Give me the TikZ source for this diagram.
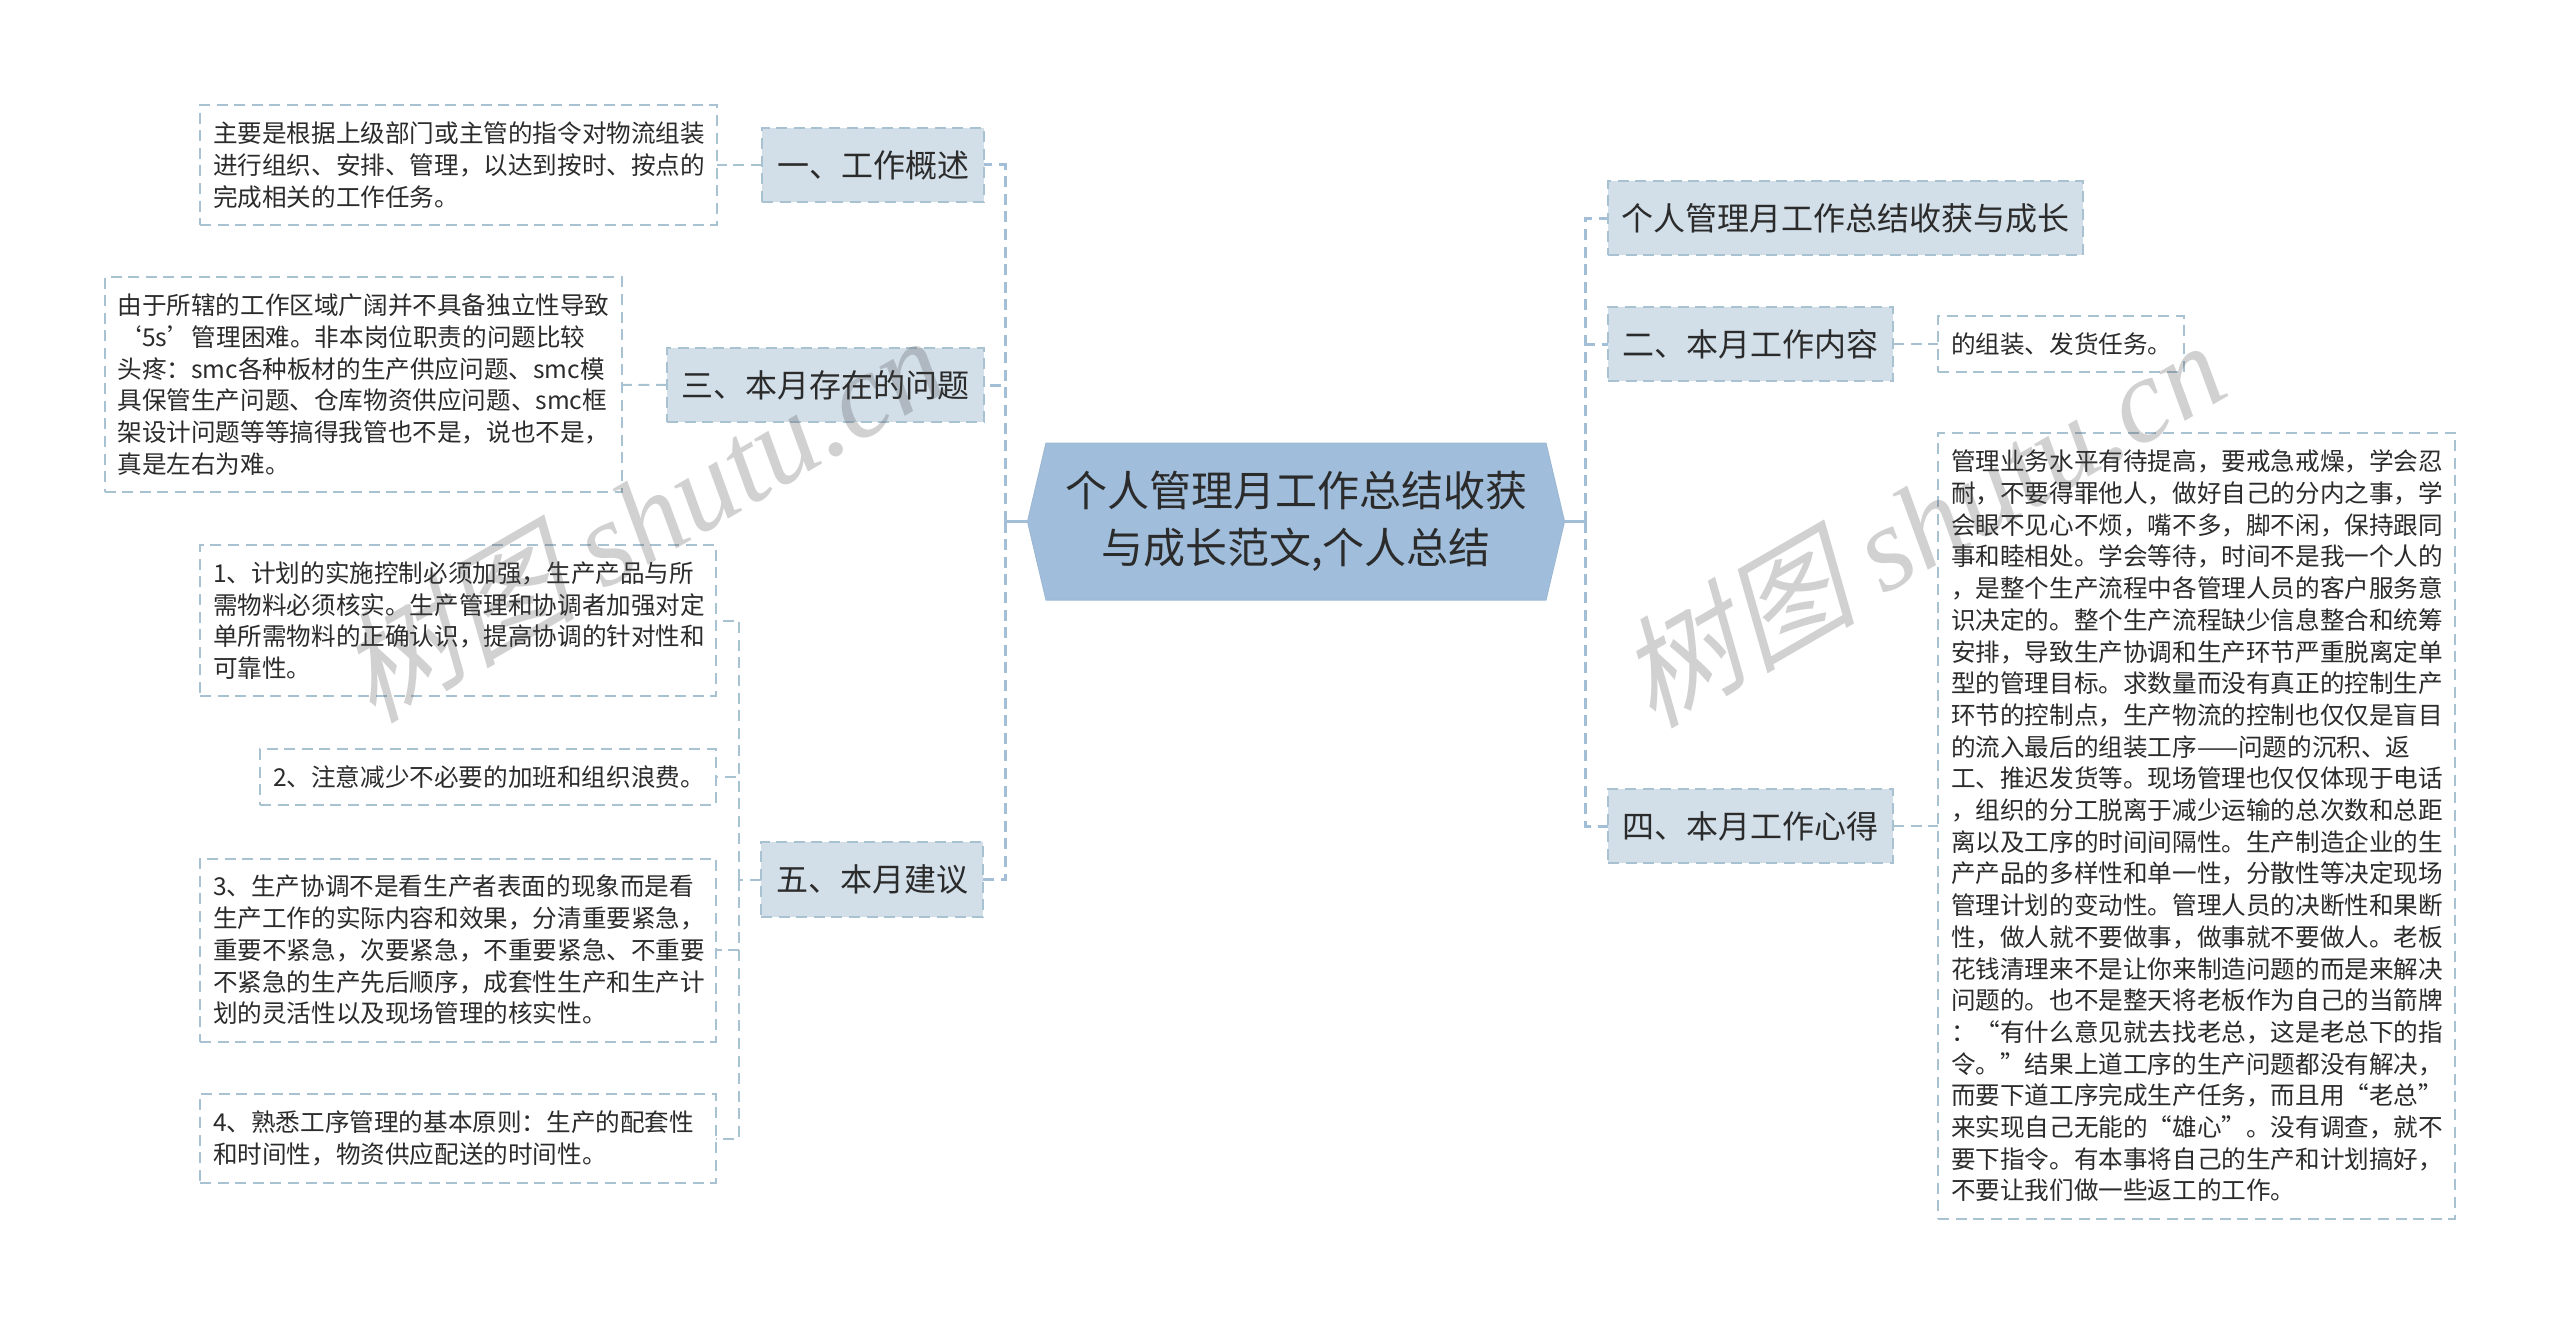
\documentclass[tikz,border=0pt]{standalone}
\usepackage{fontspec}
\setmainfont{Noto Sans CJK SC}
\newfontfamily\markfont[FakeSlant=0.25]{Noto Sans CJK SC}
\newfontfamily\marklatin{Liberation Serif}[ItalicFont=* Italic]
\pgfdeclarelayer{bg}
\pgfsetlayers{bg,main}
\definecolor{rootblue}{HTML}{A0BEDB}
\definecolor{branchfill}{HTML}{D2DFE9}
\definecolor{linkblue}{HTML}{A3BFD8}
\definecolor{leafline}{HTML}{A9C2D2}
\definecolor{inkgrey}{HTML}{2B2B2B}
\tikzset{
        leaf/.style={draw=leafline, line width=1pt, dash pattern=on 5.5pt off 3.3pt, outer sep=0pt, inner xsep=6.5pt, inner ysep=0pt, align=left, text=inkgrey, font=\fontsize{12.3pt}{15.85pt}\selectfont},
        branch/.style={draw=leafline, fill=branchfill, line width=1pt, dash pattern=on 5.5pt off 3.3pt, outer sep=0pt, inner sep=0pt, text=inkgrey, font=\fontsize{16pt}{20pt}\selectfont},
        hub/.style={outer sep=0pt, inner sep=0pt, align=center, text=inkgrey, font=\fontsize{21pt}{28.4pt}\selectfont},
        hubshape/.style={fill=rootblue, draw=rootblue!90!gray, line width=.5pt},
        stem/.style={draw=linkblue, line width=1.5pt, dash pattern=on 5.5pt off 3.3pt},
        twig/.style={draw=leafline, line width=1pt, dash pattern=on 5.5pt off 3.3pt},
        hublink/.style={draw=linkblue, line width=1.5pt},
        watermark/.style={text=black!70, opacity=.26, rotate=30, font=\fontsize{60pt}{60pt}\selectfont}
}

\begin{document}
\begin{tikzpicture}[x=0.5pt, y=-0.5pt]
        \useasboundingbox (0,0) rectangle (2560,1322);
        \node (hubnode) [hub, minimum width=268.5pt, minimum height=78.5pt] at (1296,521.5) {个人管理月工作总结收获\\与成长范文,个人总结};
        \coordinate (forkl) at (1005.5,521.5);
        \coordinate (forkr) at (1585.5,521.5);
        \coordinate (forkm) at (739,879.5);
        % left side
        \node (b1) [branch, minimum width=111pt, minimum height=37pt] at (873,165) {一、工作概述};
        \node (b3) [branch, minimum width=158.5pt, minimum height=37pt] at (825.5,385) {三、本月存在的问题};
        \node (b5) [branch, minimum width=111pt, minimum height=37.5pt] at (872,879.5) {五、本月建议};
        \node (l1) [leaf, text width=245.5pt, minimum height=60pt] at (458.5,165) {主要是根据上级部门或主管的指令对物流组装\\进行组织、安排、管理，以达到按时、按点的\\完成相关的工作任务。};
        \node (l3) [leaf, text width=245.5pt, minimum height=107.5pt] at (363,384.5) {由于所辖的工作区域广阔并不具备独立性导致\\‘5s’管理困难。非本岗位职责的问题比较\\头疼：smc各种板材的生产供应问题、smc模\\具保管生产问题、仓库物资供应问题、smc框\\架设计问题等等搞得我管也不是，说也不是，\\真是左右为难。};
        \node (l5a) [leaf, text width=245pt, minimum height=75.5pt] at (458,620.5) {1、计划的实施控制必须加强，生产产品与所\\需物料必须核实。生产管理和协调者加强对定\\单所需物料的正确认识，提高协调的针对性和\\可靠性。};
        \node (l5b) [leaf, text width=215pt, minimum height=28pt] at (488,777) {2、注意减少不必要的加班和组织浪费。};
        \node (l5c) [leaf, text width=245pt, minimum height=91.5pt] at (458,950) {3、生产协调不是看生产者表面的现象而是看\\生产工作的实际内容和效果，分清重要紧急，\\重要不紧急，次要紧急，不重要紧急、不重要\\不紧急的生产先后顺序，成套性生产和生产计\\划的灵活性以及现场管理的核实性。};
        \node (l5d) [leaf, text width=245pt, minimum height=44.5pt] at (458,1138.5) {4、熟悉工序管理的基本原则：生产的配套性\\和时间性，物资供应配送的时间性。};
        % right side
        \node (r0) [branch, minimum width=237.5pt, minimum height=37pt] at (1845.5,218) {个人管理月工作总结收获与成长};
        \node (r2) [branch, minimum width=142.5pt, minimum height=37pt] at (1750.5,344) {二、本月工作内容};
        \node (r4) [branch, minimum width=142.5pt, minimum height=37pt] at (1750.5,826) {四、本月工作心得};
        \node (t2) [leaf, text width=110pt, minimum height=28pt] at (2061,344) {的组装、发货任务。};
        \node (t4) [leaf, text width=245.5pt, minimum height=393pt] at (2196.5,826) {管理业务水平有待提高，要戒急戒燥，学会忍\\耐，不要得罪他人，做好自己的分内之事，学\\会眼不见心不烦，嘴不多，脚不闲，保持跟同\\事和睦相处。学会等待，时间不是我一个人的\\，是整个生产流程中各管理人员的客户服务意\\识决定的。整个生产流程缺少信息整合和统筹\\安排，导致生产协调和生产环节严重脱离定单\\型的管理目标。求数量而没有真正的控制生产\\环节的控制点，生产物流的控制也仅仅是盲目\\的流入最后的组装工序——问题的沉积、返\\工、推迟发货等。现场管理也仅仅体现于电话\\，组织的分工脱离于减少运输的总次数和总距\\离以及工序的时间间隔性。生产制造企业的生\\产产品的多样性和单一性，分散性等决定现场\\管理计划的变动性。管理人员的决断性和果断\\性，做人就不要做事，做事就不要做人。老板\\花钱清理来不是让你来制造问题的而是来解决\\问题的。也不是整天将老板作为自己的当箭牌\\：“有什么意见就去找老总，这是老总下的指\\令。”结果上道工序的生产问题都没有解决，\\而要下道工序完成生产任务，而且用“老总”\\来实现自己无能的“雄心”。没有调查，就不\\要下指令。有本事将自己的生产和计划搞好，\\不要让我们做一些返工的工作。};
        \node (w1) [watermark] at (640,517) {\markfont 树图 \marklatin\itshape shutu.cn};
        \node (w2) [watermark] at (1920,522) {\markfont 树图 \marklatin\itshape shutu.cn};
        \begin{pgfonlayer}{bg}
                \draw [hubshape] (1027.5,521.5) -- (1046,443) -- (1546,443) -- (1564.5,521.5) -- (1546,600) -- (1046,600) -- cycle;
                \draw [hublink] (hubnode.west) -- (forkl);
                \draw [hublink] (hubnode.east) -- (forkr);
                \draw [stem] (forkl) |- (b1.east);
                \draw [stem] (forkl) |- (b3.east);
                \draw [stem] (forkl) |- (b5.east);
                \draw [stem] (forkr) |- (r0.west);
                \draw [stem] (forkr) |- (r2.west);
                \draw [stem] (forkr) |- (r4.west);
                \draw [twig] (b1) -- (l1);
                \draw [twig] (b3) -- (l3);
                \draw [twig] (r2) -- (t2);
                \draw [twig] (r4) -- (t4);
                \draw [twig] (b5.west) -- (forkm);
                \draw [twig] (forkm) |- (l5a.east);
                \draw [twig] (forkm) |- (l5b.east);
                \draw [twig] (forkm) |- (l5c.east);
                \draw [twig] (forkm) |- (l5d.east);
        \end{pgfonlayer}
\end{tikzpicture}
\end{document}
